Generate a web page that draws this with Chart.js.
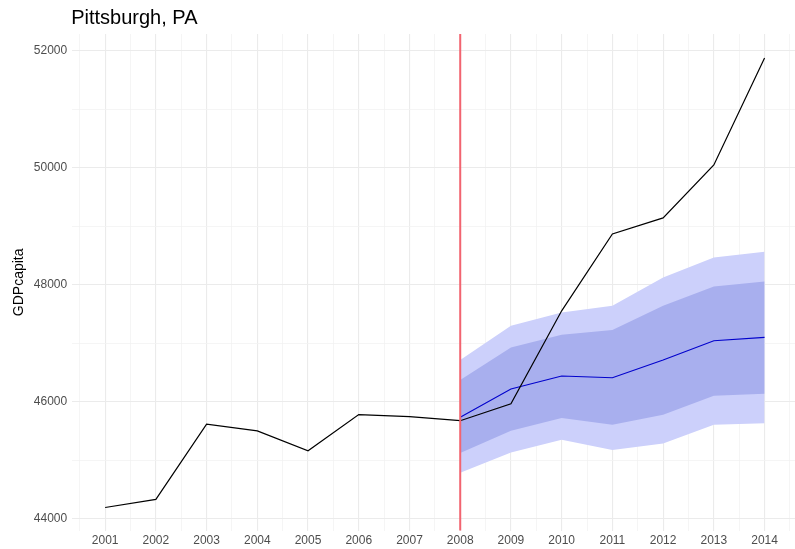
<!DOCTYPE html>
<html>
<head>
<meta charset="utf-8">
<script src="https://cdn.jsdelivr.net/npm/chart.js@4"></script>
<style>
  html, body { margin: 0; padding: 0; background: #fff; }
  #wrap { width: 795px; height: 549px; }
</style>
</head>
<body>
<div id="wrap"><canvas id="myChart"></canvas></div>
<script>
const years = [2001, 2002, 2003, 2004, 2005, 2006, 2007, 2008, 2009, 2010, 2011, 2012, 2013, 2014]
const actual = [44190, 44330, 45615, 45500, 45160, 45780, 45745, 45675, 45965, 47555, 48870, 49145, 50050, 51880]

const fcYears = [2008, 2009, 2010, 2011, 2012, 2013, 2014]
const forecast = [45733, 46217, 46439, 46410, 46713, 47043, 47100]
const hi80 = [46370, 46928, 47145, 47225, 47641, 47971, 48057]
const lo80 = [45123, 45504, 45721, 45607, 45778, 46103, 46137]
const hi95 = [46713, 47299, 47527, 47641, 48125, 48467, 48564]
const lo95 = [44786, 45133, 45350, 45174, 45287, 45607, 45630]

const cutoff = 2008
const yTicks = [44000, 45000, 46000, 47000, 48000, 49000, 50000, 51000, 52000]
const xTicks = [2000.5, 2001, 2001.5, 2002, 2002.5, 2003, 2003.5, 2004, 2004.5, 2005, 2005.5, 2006, 2006.5,
  2007, 2007.5, 2008, 2008.5, 2009, 2009.5, 2010, 2010.5, 2011, 2011.5, 2012, 2012.5, 2013, 2013.5, 2014, 2014.5]

const pts = (xs, ys) => xs.map((x, i) => ({ x: x, y: ys[i] }))

// "order": lower numbers are drawn on top
const datasets = [
  { label: 'lo95', data: pts(fcYears, lo95), order: 4, borderWidth: 0, pointRadius: 0, fill: false },
  { label: 'hi95', data: pts(fcYears, hi95), order: 4, borderWidth: 0, pointRadius: 0, fill: 0, backgroundColor: '#ccd0fb' },
  { label: 'lo80', data: pts(fcYears, lo80), order: 3, borderWidth: 0, pointRadius: 0, fill: false },
  { label: 'hi80', data: pts(fcYears, hi80), order: 3, borderWidth: 0, pointRadius: 0, fill: 2, backgroundColor: '#a8afee' },
  { label: 'forecast', data: pts(fcYears, forecast), order: 2, borderColor: '#0000cc', borderWidth: 1.1, pointRadius: 0, fill: false },
  { label: 'actual', data: pts(years, actual), order: 1, borderColor: '#000000', borderWidth: 1.2, pointRadius: 0, fill: false }
]

// red cutoff line and left-aligned title
const extras = {
  id: 'extras',
  afterDatasetsDraw(chart) {
    const ctx = chart.ctx
    const area = chart.chartArea
    const xp = chart.scales.x.getPixelForValue(cutoff)
    ctx.save()
    ctx.strokeStyle = '#f26470'
    ctx.lineWidth = 2
    ctx.beginPath()
    ctx.moveTo(xp, area.top)
    ctx.lineTo(xp, area.bottom)
    ctx.stroke()
    ctx.restore()
  },
  afterDraw(chart) {
    const ctx = chart.ctx
    ctx.save()
    ctx.fillStyle = '#000'
    ctx.font = '20px "Liberation Sans", Arial, sans-serif'
    ctx.textBaseline = 'middle'
    ctx.fillText('Pittsburgh, PA', chart.chartArea.left - 1, 18)
    ctx.restore()
  }
}

const gridColor = '#ebebeb'

new Chart(document.getElementById('myChart'), {
  type: 'line',
  data: { datasets },
  plugins: [extras],
  options: {
    responsive: true,
    maintainAspectRatio: false,
    animation: false,
    layout: { padding: { top: 34, right: 0, left: 5, bottom: -2 } },
    plugins: { legend: { display: false }, tooltip: { enabled: false } },
    elements: { line: { tension: 0 } },
    scales: {
      x: {
        type: 'linear',
        min: 2000.35,
        max: 2014.6,
        afterBuildTicks: (s) => { s.ticks = xTicks.map(v => ({ value: v })) },
        border: { display: false },
        grid: {
          color: (c) => Number.isInteger(c.tick.value) ? gridColor : '#f3f3f3',
          lineWidth: (c) => Number.isInteger(c.tick.value) ? 1.1 : 0.8,
          drawTicks: false
        },
        ticks: {
          autoSkip: false,
          maxRotation: 0,
          padding: 3,
          color: '#4d4d4d',
          font: { family: '"Liberation Sans", Arial, sans-serif', size: 12 },
          callback: (v) => Number.isInteger(v) ? String(v) : ''
        }
      },
      y: {
        type: 'linear',
        min: 43795,
        max: 52290,
        afterBuildTicks: (s) => { s.ticks = yTicks.map(v => ({ value: v })) },
        border: { display: false },
        grid: {
          color: (c) => c.tick.value % 2000 === 0 ? gridColor : '#f3f3f3',
          lineWidth: (c) => c.tick.value % 2000 === 0 ? 1.1 : 0.8,
          drawTicks: false
        },
        title: {
          display: true,
          text: 'GDPcapita',
          color: '#000',
          font: { family: '"Liberation Sans", Arial, sans-serif', size: 14 },
          padding: { top: 6, bottom: 1 }
        },
        ticks: {
          autoSkip: false,
          padding: 5,
          color: '#4d4d4d',
          font: { family: '"Liberation Sans", Arial, sans-serif', size: 12 },
          callback: (v) => v % 2000 === 0 ? String(v) : ''
        }
      }
    }
  }
})
</script>
</body>
</html>
